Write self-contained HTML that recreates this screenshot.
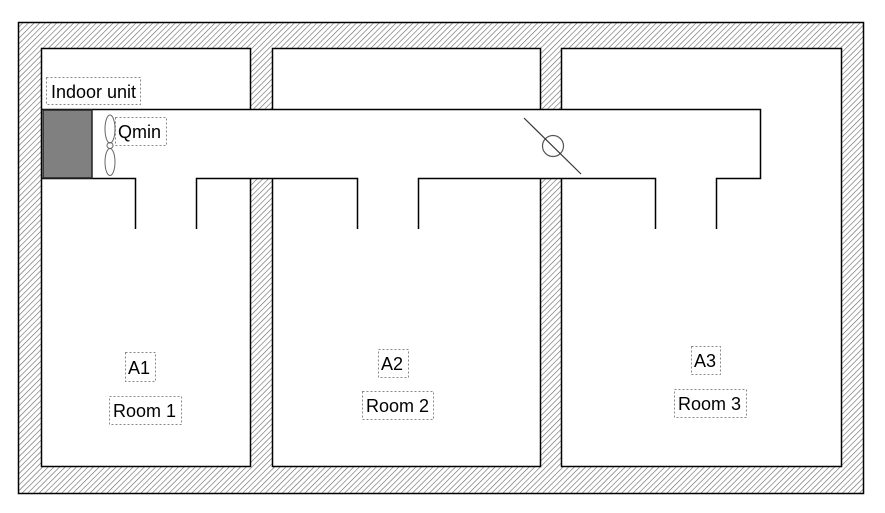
<!DOCTYPE html>
<html><head><meta charset="utf-8"><style>
html,body{margin:0;padding:0;background:#fff;}
svg{display:block;}
text{font-family:"Liberation Sans",Arial,sans-serif;font-size:18px;fill:#000;}
</style></head><body>
<svg width="885" height="513" viewBox="0 0 885 513" xmlns="http://www.w3.org/2000/svg">
<defs>
<pattern id="h" patternUnits="userSpaceOnUse" width="4" height="4" patternTransform="rotate(45)">
<rect width="4" height="4" fill="#fff"/>
<line x1="0" y1="0" x2="0" y2="4" stroke="#666" stroke-width="1.2"/>
</pattern>
</defs>
<rect x="18.5" y="22.5" width="845" height="471" fill="url(#h)" stroke="#000" stroke-width="1.5"/>
<rect x="41.5" y="48.5" width="209" height="418" fill="#fff" stroke="#000" stroke-width="1.5"/>
<rect x="272.5" y="48.5" width="268" height="418" fill="#fff" stroke="#000" stroke-width="1.5"/>
<rect x="561.5" y="48.5" width="280" height="418" fill="#fff" stroke="#000" stroke-width="1.5"/>
<rect x="42" y="109.5" width="718" height="68.5" fill="#fff"/>
<path d="M42 109.5 H760.5 V178.5 H716.5 V229 M655.5 229 V178.5 H418.5 V229 M357.5 229 V178.5 H196.5 V229 M135.5 229 V178.5 H42" fill="none" stroke="#000" stroke-width="1.5"/>
<rect x="43" y="110" width="49" height="68" fill="#808080" stroke="#222" stroke-width="1.5"/>
<ellipse cx="110" cy="129" rx="5" ry="14" fill="none" stroke="#666" stroke-width="1"/>
<ellipse cx="110" cy="162" rx="5" ry="13.5" fill="none" stroke="#666" stroke-width="1"/>
<circle cx="110" cy="145.5" r="3" fill="none" stroke="#666" stroke-width="1"/>
<circle cx="553" cy="146" r="10.5" fill="none" stroke="#555" stroke-width="1.2"/>
<line x1="524" y1="118" x2="581" y2="174" stroke="#333" stroke-width="1.2"/>
<g fill="none" stroke="#888" stroke-width="1" stroke-dasharray="2,2">
<rect x="46.5" y="77.5" width="94" height="27"/>
<rect x="115.5" y="117.5" width="51" height="28"/>
<rect x="125.5" y="352.5" width="30" height="29"/>
<rect x="109.5" y="396.5" width="72" height="28"/>
<rect x="378.5" y="349.5" width="30" height="28"/>
<rect x="362.5" y="391.5" width="71" height="28"/>
<rect x="691.5" y="346.5" width="29" height="28"/>
<rect x="674.5" y="389.5" width="72" height="28"/>
</g>
<text x="51" y="98">Indoor unit</text>
<text x="118" y="138">Qmin</text>
<text x="128" y="374">A1</text>
<text x="113" y="417">Room 1</text>
<text x="381" y="370">A2</text>
<text x="366" y="412">Room 2</text>
<text x="694" y="367">A3</text>
<text x="678" y="410">Room 3</text>
</svg>
</body></html>
